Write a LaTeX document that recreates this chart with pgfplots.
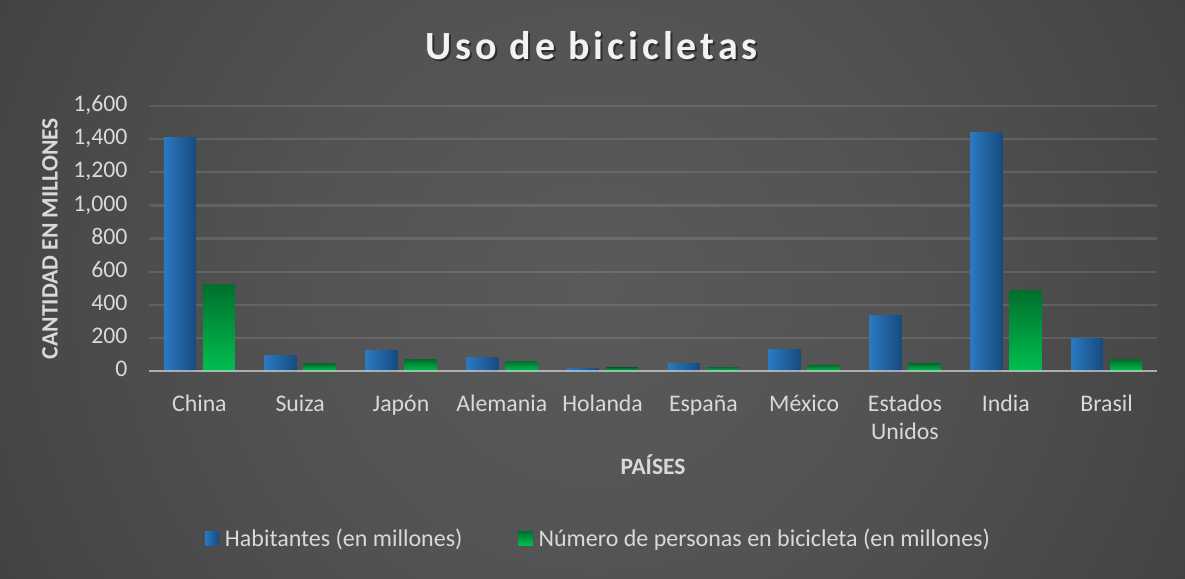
\documentclass[border=0pt]{standalone}
\usepackage{fontspec}
\setmainfont{Carlito}
\newfontfamily\titlefont[LetterSpace=10]{Carlito}
\usepackage{pgfplots}
\pgfplotsset{compat=1.18}
\definecolor{bluel}{HTML}{2A7AC2}
\definecolor{blued}{HTML}{174A7E}
\definecolor{greend}{HTML}{006F2C}
\definecolor{greenl}{HTML}{00BF50}
\definecolor{txt}{HTML}{D9D9D9}
\definecolor{bgA}{HTML}{5A5A5A}
\definecolor{bgB}{HTML}{535353}
\definecolor{bgC}{HTML}{464646}
\definecolor{bgD}{HTML}{363636}
\definecolor{bgE}{HTML}{2A2A2A}
\definecolor{bgF}{HTML}{242424}
\definecolor{baseln}{HTML}{C8C8C8}
\pgfdeclareradialshading{bgshade}{\pgfpoint{0bp}{0bp}}{color(0bp)=(bgA); color(10.7bp)=(bgB); color(21.4bp)=(bgC); color(32.1bp)=(bgD); color(42.9bp)=(bgE); color(50bp)=(bgF)}
\pgfplotsset{
  bluebar/.style={ybar, bar width=0.3175, bar shift=-0.1935, draw=none, left color=bluel, right color=blued},
  greenbar/.style={ybar, bar width=0.3175, bar shift=0.1935, draw=none, top color=greend, bottom color=greenl},
}
\begin{document}
\begin{tikzpicture}
\begin{scope}
\clip (0pt,0pt) rectangle (1185pt,578pt);
\shade[shading=bgshade] (595pt,288pt) circle (700pt);
\end{scope}
\node[anchor=base, text=black, opacity=0.45, font=\titlefont\fontsize{40}{48}\selectfont\bfseries] at (593.5pt,516pt) {Uso de bicicletas};
\node[anchor=base, text=white!95!black, font=\titlefont\fontsize{40}{48}\selectfont\bfseries] at (591.5pt,518pt) {Uso de bicicletas};
\begin{axis}[
  at={(149pt,206.8pt)}, anchor=south west,
  scale only axis, width=1008pt, height=265.2pt,
  xmin=-0.5, xmax=9.5, ymin=0, ymax=1600,
  xtick={0,...,9},
  xticklabels={China,Suiza,Japón,Alemania,Holanda,España,México,{Estados\\Unidos},India,Brasil},
  ytick={0,200,...,1600},
  yticklabels={0,200,400,600,800,{1,000},{1,200},{1,400},{1,600}},
  axis line style={draw=none},
  major tick length=0pt,
  tick style={draw=none},
  ymajorgrids,
  grid style={draw=white, opacity=0.11, line width=2.2pt},
  tick label style={font=\fontsize{23.8}{28}\selectfont, text=txt},
  typeset ticklabels with strut,
  xticklabel style={align=center, yshift=-17.5pt},
  yticklabel style={xshift=-18pt},
  xlabel={PAÍSES},
  ylabel={CANTIDAD EN MILLONES},
  every axis x label/.style={at={(axis description cs:0.5,-0.3907)}, anchor=base, font=\fontsize{23.5}{28}\selectfont\bfseries, text=txt},
  every axis y label/.style={at={(axis description cs:-0.0982,0.5)}, anchor=center, rotate=90, font=\fontsize{23.5}{28}\selectfont\bfseries, text=txt},
  legend columns=2,
  legend style={at={(axis description cs:0.4459,-0.6297)}, anchor=center, draw=none, fill=none, font=\fontsize{24}{28}\selectfont, text=txt, /tikz/every even column/.append style={column sep=54pt}},
  legend image code/.code={\path[#1,draw=none] (0pt,-7pt) rectangle (14pt,7pt); \path (18pt,0pt);},
]
% Habitantes (en millones)
\addplot[bluebar] coordinates {(0,1410)};
\addlegendentry{Habitantes (en millones)}
% Numero de personas en bicicleta (en millones)
\addplot[greenbar] coordinates {(0,525)};
\addlegendentry{Número de personas en bicicleta (en millones)}
\addplot[bluebar, forget plot] coordinates {(1,92)};
\addplot[bluebar, forget plot] coordinates {(2,122)};
\addplot[bluebar, forget plot] coordinates {(3,85)};
\addplot[bluebar, forget plot] coordinates {(4,19)};
\addplot[bluebar, forget plot] coordinates {(5,49)};
\addplot[bluebar, forget plot] coordinates {(6,128)};
\addplot[bluebar, forget plot] coordinates {(7,338)};
\addplot[bluebar, forget plot] coordinates {(8,1440)};
\addplot[bluebar, forget plot] coordinates {(9,200)};
\addplot[greenbar, forget plot] coordinates {(1,46)};
\addplot[greenbar, forget plot] coordinates {(2,70)};
\addplot[greenbar, forget plot] coordinates {(3,61)};
\addplot[greenbar, forget plot] coordinates {(4,20)};
\addplot[greenbar, forget plot] coordinates {(5,25)};
\addplot[greenbar, forget plot] coordinates {(6,36)};
\addplot[greenbar, forget plot] coordinates {(7,45)};
\addplot[greenbar, forget plot] coordinates {(8,489)};
\addplot[greenbar, forget plot] coordinates {(9,70)};
\addplot[sharp plot, draw=baseln, opacity=0.75, line width=3pt, forget plot] coordinates {(-0.5,0) (9.5,0)};
\end{axis}
\pgfresetboundingbox
\useasboundingbox (0pt,0pt) rectangle (1185pt,578pt);
\end{tikzpicture}
\end{document}
